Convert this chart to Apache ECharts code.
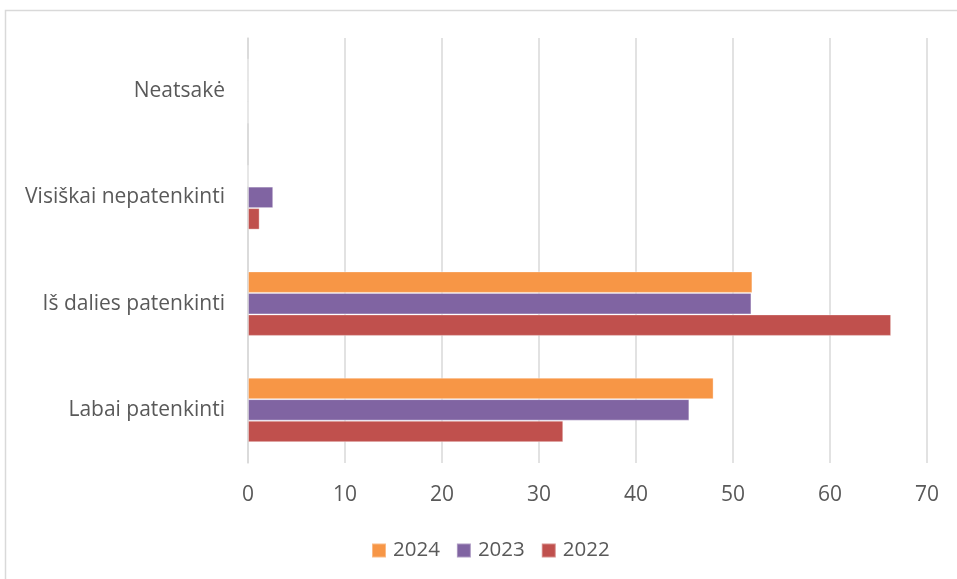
<!DOCTYPE html>
<html><head><meta charset="utf-8">
<script src="https://cdn.jsdelivr.net/npm/echarts@6/dist/echarts.min.js"></script>
<style>html,body{margin:0;padding:0;background:#fff}#c{width:957px;height:579px}</style>
</head><body><div id="c"></div>
<script>
const categories = ['Labai patenkinti', 'Iš dalies patenkinti', 'Visiškai nepatenkinti', 'Neatsakė'];
const s2022 = [32.5, 66.3, 1.2, 0];
const s2023 = [45.5, 51.9, 2.6, 0];
const s2024 = [48.0, 52.0, 0, 0];
const xTicks = [0, 10, 20, 30, 40, 50, 60, 70];

const chart = echarts.init(document.getElementById('c'), null, {renderer: 'canvas'});
const font = '"Open Sans", sans-serif';
const mk = (name, data, color) => ({
  name, type: 'bar', data, barWidth: 21.5, barGap: '0%', barCategoryGap: '39%',
  itemStyle: {color, borderColor: 'rgba(255,255,255,0.35)', borderWidth: 1},
  emphasis: {disabled: true}
});
chart.setOption({
  animation: false,
  graphic: [{type: 'rect', shape: {x: 5.5, y: 10.5, width: 960, height: 580},
    style: {fill: 'none', stroke: '#d9d9d9', lineWidth: 1.5}, silent: true}],
  grid: {left: 248, right: 30, top: 38, bottom: 116, containLabel: false},
  legend: {
    data: ['2024', '2023', '2022'], top: 535, left: 366, itemWidth: 14, itemHeight: 14, itemGap: 16,
    icon: 'rect', textStyle: {fontSize: 20.5, color: '#595959', fontFamily: font, padding: [0, 0, 0, 2]}
  },
  xAxis: {
    type: 'value', min: 0, max: 70, interval: 10,
    axisLine: {show: false}, axisTick: {show: false},
    splitLine: {lineStyle: {color: '#d9d9d9', width: 1.5}},
    axisLabel: {fontSize: 21, color: '#595959', fontFamily: font, margin: 22,
      formatter: v => xTicks.includes(v) ? String(v) : ''}
  },
  yAxis: {
    type: 'category', data: categories,
    axisLine: {show: true, lineStyle: {color: '#d9d9d9', width: 1.5}},
    axisTick: {show: false},
    axisLabel: {fontSize: 21, color: '#595959', fontFamily: font, margin: 23}
  },
  series: [mk('2024', s2024, '#F79646'), mk('2023', s2023, '#8064A2'), mk('2022', s2022, '#C0504D')]
});
</script></body></html>
